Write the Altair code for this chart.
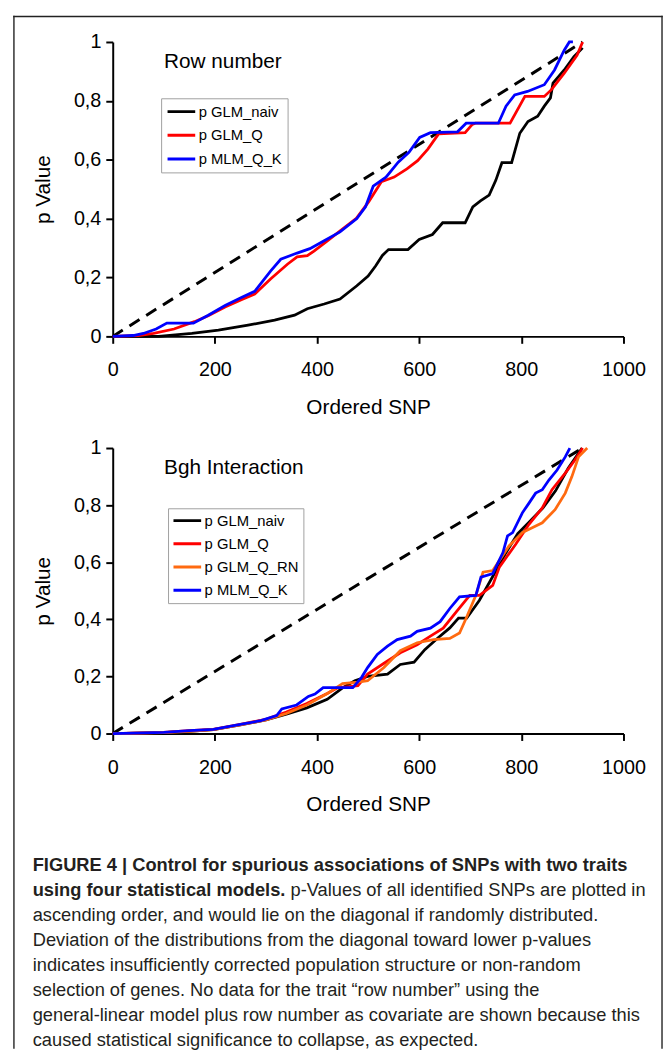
import altair as alt
import pandas as pd

FONT = "Liberation Sans"

# ---------------- data ----------------
top_series = ["p GLM_naiv", "p GLM_Q", "p MLM_Q_K"]
bot_series = ["p GLM_naiv", "p GLM_Q", "p GLM_Q_RN", "p MLM_Q_K"]
series_colors = {"p GLM_naiv": "#000000", "p GLM_Q": "#ff0000",
                 "p GLM_Q_RN": "#ff6a10", "p MLM_Q_K": "#0000ff"}

diag_x = [0, 920]
diag_y = [0, 1]

# Row number
top_naiv_x = [0, 90, 155, 207, 265, 317, 356, 381, 414, 445, 478, 500, 515, 528, 540, 578, 600, 626, 646, 690, 705, 720, 737, 750, 762, 781, 797, 813, 832, 845, 857, 862, 884, 903, 920]
top_naiv_y = [0, 0, 0.01, 0.021, 0.038, 0.055, 0.072, 0.094, 0.11, 0.127, 0.172, 0.205, 0.24, 0.275, 0.295, 0.295, 0.329, 0.346, 0.386, 0.386, 0.44, 0.46, 0.48, 0.53, 0.59, 0.59, 0.69, 0.73, 0.748, 0.782, 0.81, 0.86, 0.905, 0.95, 0.98]
top_q_x = [0, 50, 80, 120, 160, 187, 220, 253, 278, 309, 342, 361, 381, 394, 419, 444, 477, 501, 526, 551, 576, 597, 617, 638, 690, 704, 710, 778, 807, 845, 859, 884, 909, 920]
top_q_y = [0, 0.003, 0.01, 0.025, 0.05, 0.07, 0.1, 0.125, 0.144, 0.195, 0.245, 0.27, 0.274, 0.29, 0.323, 0.357, 0.401, 0.457, 0.525, 0.541, 0.569, 0.597, 0.636, 0.688, 0.692, 0.72, 0.724, 0.724, 0.815, 0.815, 0.838, 0.894, 0.955, 1.0]
top_k_x = [0, 40, 60, 85, 106, 158, 187, 220, 253, 278, 309, 329, 361, 386, 414, 445, 478, 495, 510, 535, 559, 580, 601, 622, 675, 692, 755, 770, 787, 812, 845, 865, 884, 894, 901]
top_k_y = [0, 0.003, 0.01, 0.025, 0.045, 0.045, 0.072, 0.105, 0.133, 0.153, 0.222, 0.262, 0.283, 0.298, 0.325, 0.355, 0.4, 0.44, 0.51, 0.541, 0.592, 0.625, 0.676, 0.692, 0.695, 0.724, 0.724, 0.782, 0.82, 0.832, 0.855, 0.905, 0.972, 1.0, 1.0]

# Bgh Interaction
bot_naiv_x = [0, 100, 150, 197, 250, 300, 340, 380, 420, 450, 474, 499, 538, 563, 590, 611, 636, 660, 677, 693, 718, 744, 768, 793, 817, 842, 867, 892, 919]
bot_naiv_y = [0, 0.003, 0.008, 0.014, 0.03, 0.048, 0.068, 0.09, 0.12, 0.16, 0.185, 0.2, 0.208, 0.242, 0.25, 0.294, 0.334, 0.37, 0.404, 0.404, 0.467, 0.55, 0.628, 0.7, 0.744, 0.79, 0.85, 0.93, 1.0]
bot_q_x = [0, 100, 150, 197, 250, 300, 340, 380, 420, 440, 480, 499, 538, 563, 596, 622, 647, 673, 699, 718, 744, 757, 789, 815, 841, 860, 886, 905, 920]
bot_q_y = [0, 0.004, 0.01, 0.015, 0.032, 0.05, 0.075, 0.105, 0.14, 0.16, 0.168, 0.208, 0.254, 0.283, 0.311, 0.341, 0.369, 0.427, 0.484, 0.484, 0.519, 0.583, 0.663, 0.733, 0.79, 0.854, 0.912, 0.958, 1.0]
bot_rn_x = [0, 100, 150, 197, 250, 300, 340, 380, 420, 450, 480, 499, 531, 563, 596, 628, 660, 679, 692, 711, 725, 744, 776, 802, 841, 866, 886, 899, 912, 929]
bot_rn_y = [0, 0.003, 0.008, 0.014, 0.03, 0.048, 0.07, 0.1, 0.14, 0.175, 0.18, 0.185, 0.231, 0.29, 0.318, 0.329, 0.333, 0.352, 0.404, 0.484, 0.565, 0.571, 0.657, 0.704, 0.738, 0.784, 0.842, 0.9, 0.969, 1.0]
bot_k_x = [0, 100, 150, 197, 250, 290, 321, 331, 360, 383, 396, 412, 470, 487, 499, 518, 538, 557, 583, 596, 622, 641, 660, 679, 711, 721, 744, 764, 773, 783, 802, 815, 828, 841, 854, 870, 886, 895]
bot_k_y = [0, 0.004, 0.01, 0.015, 0.032, 0.045, 0.063, 0.086, 0.1, 0.13, 0.138, 0.161, 0.161, 0.196, 0.231, 0.277, 0.306, 0.329, 0.341, 0.358, 0.369, 0.392, 0.438, 0.479, 0.484, 0.548, 0.56, 0.634, 0.692, 0.704, 0.773, 0.807, 0.842, 0.854, 0.888, 0.923, 0.969, 1.0]

y_ticks = [0, 0.2, 0.4, 0.6, 0.8, 1]
x_ticks = [0, 200, 400, 600, 800, 1000]

caption_bold = ["FIGURE 4 | Control for spurious associations of SNPs with two traits",
                "using four statistical models."]
caption_line2 = "p-Values of all identified SNPs are plotted in"
caption_rest = [
    "ascending order, and would lie on the diagonal if randomly distributed.",
    "Deviation of the distributions from the diagonal toward lower p-values",
    "indicates insufficiently corrected population structure or non-random",
    "selection of genes. No data for the trait \u201crow number\u201d using the",
    "general-linear model plus row number as covariate are shown because this",
    "caused statistical significance to collapse, as expected.",
]

# ---------------- helpers ----------------
def long_df(names, xs, ys):
    rows = []
    for n, xx, yy in zip(names, xs, ys):
        for a, b in zip(xx, yy):
            rows.append({"series": n, "snp": a, "p": b})
    return pd.DataFrame(rows)


def panel(names, xs, ys, label, h, legx, legy, legpad, clip_h, row_pad):
    df = long_df(names, xs, ys)
    xenc = alt.X("snp:Q", scale=alt.Scale(domain=[0, 1000], nice=False),
                 axis=alt.Axis(values=x_ticks, format="d", title="Ordered SNP",
                               titleX=258.5, titleY=72, titleAlign="center",
                               titleBaseline="middle", labelPadding=17,
                               labelFlush=False))
    yenc = alt.Y("p:Q", scale=alt.Scale(domain=[0, 1], nice=False),
                 axis=alt.Axis(values=y_ticks, title="p Value",
                               labelExpr="datum.value == 0 ? '0' : (datum.value == 1 ? '1' : replace(format(datum.value, '.1f'), '.', ','))",
                               titleX=-70, titleY=h / 2, titleAngle=270,
                               titleAlign="center", titleBaseline="middle",
                               labelPadding=5, labelFlush=False))
    diag = alt.Chart(pd.DataFrame({"snp": diag_x, "p": diag_y})).mark_line(
        color="black", strokeWidth=3, strokeDash=[12, 8]).encode(x=xenc, y=yenc)
    lines = alt.Chart(df).mark_line(strokeWidth=2.8).encode(
        x=xenc, y=yenc,
        color=alt.Color("series:N",
                        scale=alt.Scale(domain=names, range=[series_colors[n] for n in names]),
                        legend=alt.Legend(orient="none", legendX=legx, legendY=legy,
                                          title=None, symbolType="stroke",
                                          symbolStrokeWidth=3, symbolSize=784,
                                          labelFontSize=15, labelFont=FONT,
                                          labelColor="black", strokeColor="#a0a0a0",
                                          fillColor="white", padding=legpad,
                                          clipHeight=clip_h, rowPadding=row_pad,
                                          labelOffset=2, labelLimit=300)),
        detail="series:N")
    txt = alt.Chart(pd.DataFrame({"t": [label]})).mark_text(
        align="left", baseline="middle", fontSize=21, font=FONT, color="black"
    ).encode(text="t:N", x=alt.value(52), y=alt.value(20))
    return alt.layer(diag, lines, txt).properties(width=517, height=h)


top = panel(top_series, [top_naiv_x, top_q_x, top_k_x], [top_naiv_y, top_q_y, top_k_y],
            "Row number", 298, 49, 57, 5, 17, 7)
bot = panel(bot_series, [bot_naiv_x, bot_q_x, bot_rn_x, bot_k_x],
            [bot_naiv_y, bot_q_y, bot_rn_y, bot_k_y],
            "Bgh Interaction", 289, 56, 61, 4, 17, 6.5)

# ---------------- caption ----------------
cap_scale = alt.Scale(domain=[0, 7], range=[20, 197])
bold_df = pd.DataFrame({"row": [0, 1], "text": caption_bold})
line2_df = pd.DataFrame({"row": [1], "text": [caption_line2]})
rest_df = pd.DataFrame({"row": list(range(2, 8)), "text": caption_rest})

def cap_layer(df, xpos, weight):
    return alt.Chart(df).mark_text(align="left", baseline="middle", fontSize=18.5,
                                   font=FONT, fontWeight=weight, color="#231f20").encode(
        x=alt.value(xpos), y=alt.Y("row:Q", scale=cap_scale, axis=None), text="text:N")

# page frame (decoration)
frame_df = pd.DataFrame({"k": [0]})
frame_left = alt.Chart(frame_df).mark_rect(color="#222222").encode(
    x=alt.value(-100.7), x2=alt.value(-99.3), y=alt.value(-839.5), y2=alt.value(206))
frame_top = alt.Chart(frame_df).mark_rect(color="#222222").encode(
    x=alt.value(-100.7), x2=alt.value(556.7), y=alt.value(-839.5), y2=alt.value(-838.1))
frame_right = alt.Chart(frame_df).mark_rect(color="#222222").encode(
    x=alt.value(555.3), x2=alt.value(556.7), y=alt.value(-839.5), y2=alt.value(206))

caption = alt.layer(
    cap_layer(bold_df, -81, "bold"),
    cap_layer(line2_df, 180, "normal"),
    cap_layer(rest_df, -81, "normal"),
    frame_left, frame_top, frame_right,
).properties(width=517, height=200)

chart = alt.vconcat(top, bot, caption, spacing=113, bounds="flush").resolve_scale(
    color="independent").properties(
    padding={"left": 5, "top": 1, "right": 0, "bottom": 0}
).configure(font=FONT, background="white").configure_view(stroke=None).configure_axis(
    grid=False, domainColor="black", domainWidth=2, tickColor="black", tickWidth=2,
    tickSize=7, labelColor="black", labelFontSize=20, labelFont=FONT,
    titleColor="black", titleFontSize=21, titleFontWeight="normal", titleFont=FONT)

chart.save("out.html", embed_options={"renderer": "svg", "actions": False})
